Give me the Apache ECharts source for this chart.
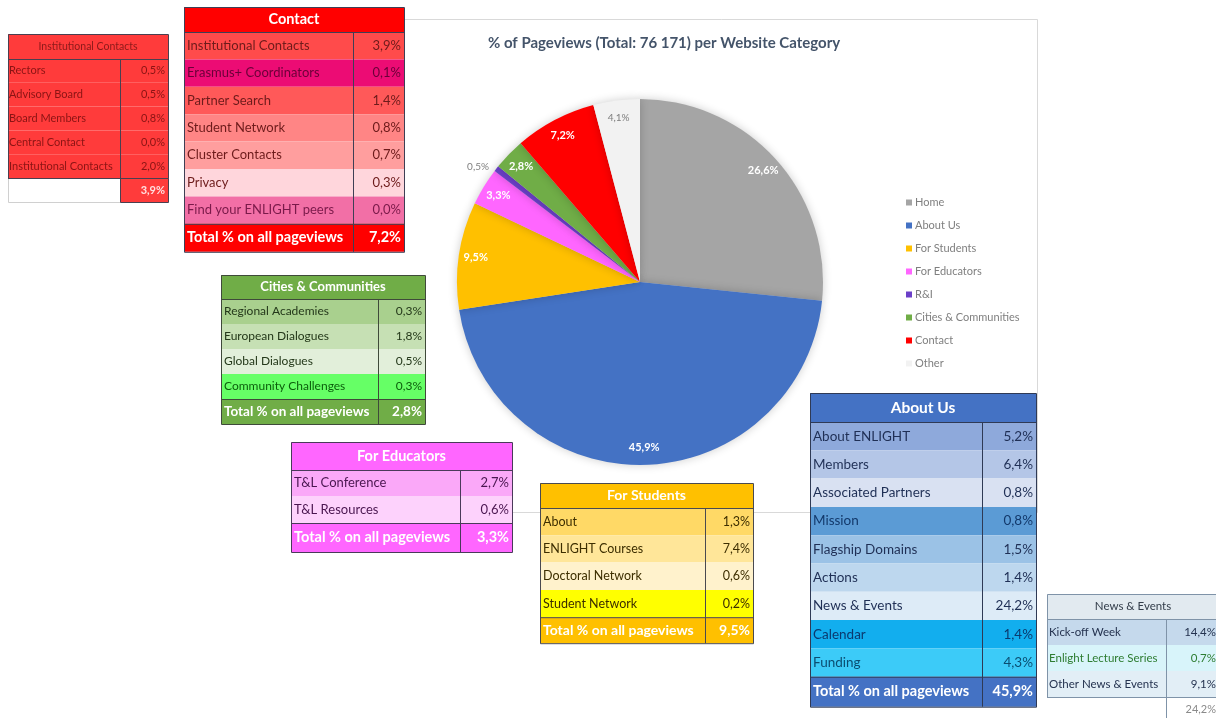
<!DOCTYPE html>
<html>
<head>
<meta charset="utf-8">
<script src="https://cdn.jsdelivr.net/npm/echarts@6/dist/echarts.min.js"></script>
<style>
  html, body { margin: 0; padding: 0; background: #fff; }
  #main { width: 1216px; height: 718px; }
</style>
</head>
<body>
<div id="main"></div>
<script>
// pie: share of pageviews per website category (%)
const pieNames = ['Home', 'About Us', 'For Students', 'For Educators', 'R&I', 'Cities & Communities', 'Contact', 'Other'];
const pieValues = [26.6, 45.9, 9.5, 3.3, 0.5, 2.8, 7.2, 4.1];
const pieColors = ['#A5A5A5', '#4472C4', '#FFC000', '#FF66FF', '#6B3FC8', '#70AD47', '#FF0000', '#F2F2F2'];

// detail tables
const instLabels = ['Rectors', 'Advisory Board', 'Board Members', 'Central Contact', 'Institutional Contacts'];
const instValues = [0.5, 0.5, 0.8, 0.0, 2.0];

const contactLabels = ['Institutional Contacts', 'Erasmus+ Coordinators', 'Partner Search', 'Student Network', 'Cluster Contacts', 'Privacy', 'Find your ENLIGHT peers'];
const contactValues = [3.9, 0.1, 1.4, 0.8, 0.7, 0.3, 0.0];

const citiesLabels = ['Regional Academies', 'European Dialogues', 'Global Dialogues', 'Community Challenges'];
const citiesValues = [0.3, 1.8, 0.5, 0.3];

const educatorsLabels = ['T&L Conference', 'T&L Resources'];
const educatorsValues = [2.7, 0.6];

const studentsLabels = ['About', 'ENLIGHT Courses', 'Doctoral Network', 'Student Network'];
const studentsValues = [1.3, 7.4, 0.6, 0.2];

const aboutLabels = ['About ENLIGHT', 'Members', 'Associated Partners', 'Mission', 'Flagship Domains', 'Actions', 'News & Events', 'Calendar', 'Funding'];
const aboutValues = [5.2, 6.4, 0.8, 0.8, 1.5, 1.4, 24.2, 1.4, 4.3];

const newsLabels = ['Kick-off Week', 'Enlight Lecture Series', 'Other News & Events'];
const newsValues = [14.4, 0.7, 9.1];

const TOTAL_TEXT = 'Total % on all pageviews';
const FONT = 'Lato, "Noto Sans", sans-serif';

const fmt = v => v.toFixed(1).replace('.', ',') + '%';

function txt(x, y, s, color, size, weight, align) {
  return {
    type: 'text', x: x, y: y, z: 10, silent: true,
    style: {
      text: s, fill: color, fontSize: size, fontWeight: weight || 'normal', fontFamily: FONT,
      textAlign: align, textVerticalAlign: 'middle', align: align, verticalAlign: 'middle'
    }
  };
}
function box(x, y, w, h, fill, stroke) {
  return { type: 'rect', z: 10, silent: true, shape: { x: x, y: y, width: w, height: h }, style: { fill: fill, stroke: stroke || null, lineWidth: 1 } };
}
function seg(x1, y1, x2, y2, stroke) {
  return { type: 'line', z: 11, silent: true, shape: { x1: x1, y1: y1, x2: x2, y2: y2 }, style: { stroke: stroke, lineWidth: 1 } };
}

// builds one table (fills, then grid lines, then texts)
function buildTable(t) {
  const fills = [], lines = [], texts = [];
  const W = t.w1 + t.w2, xr = t.x + W, xd = t.x + t.w1;
  const pad = t.pad == null ? 3 : t.pad;
  fills.push(box(t.x, t.y, W, t.headH, t.headFill));
  texts.push(txt(t.x + W / 2, t.y + t.headH / 2, t.title, t.headColor, t.headSize, t.headWeight, 'center'));
  let y = t.y + t.headH;
  t.labels.forEach((lab, i) => {
    fills.push(box(t.x, y, W, t.rowH, t.rowFills[i]));
    const c = (t.rowColors && t.rowColors[i]) || t.textColor;
    texts.push(txt(t.x + pad, y + t.rowH / 2, lab, c, t.size, 'normal', 'left'));
    texts.push(txt(xr - 3, y + t.rowH / 2, fmt(t.values[i]), c, t.size, 'normal', 'right'));
    y += t.rowH;
  });
  const bodyBottom = y, tb = y + t.totalH;
  if (t.totalLabel) {
    fills.push(box(t.x, y, W, t.totalH, t.totalFill));
    texts.push(txt(t.x + pad, y + t.totalH / 2, t.totalLabel, t.totalColor, t.totalSize, 'bold', 'left'));
    lines.push(box(t.x + 0.5, t.y + 0.5, W, tb - t.y, 'none', t.line));
  } else {
    fills.push(box(t.x + 0.5, y + 0.5, t.w1, t.totalH, '#ffffff', t.lightLine));
    fills.push(box(xd + 0.5, y + 0.5, t.w2, t.totalH, t.totalFill, t.totalStroke));
    lines.push(box(t.x + 0.5, t.y + 0.5, W, bodyBottom - t.y, 'none', t.line));
  }
  texts.push(txt(xr - 3, y + t.totalH / 2, fmt(t.total), t.totalColor, t.totalSize, t.totalWeight, 'right'));
  lines.push(seg(t.x, t.y + t.headH + 0.5, xr, t.y + t.headH + 0.5, t.line));
  lines.push(seg(xd + 0.5, t.y + t.headH, xd + 0.5, tb, t.line));
  lines.push(seg(t.x, bodyBottom + 0.5, xr, bodyBottom + 0.5, t.line));
  return fills.concat(lines, texts);
}

const tables = [
  { // Institutional Contacts
    x: 8, y: 34, w1: 112, w2: 48, headH: 25, rowH: 23.8, totalH: 24, pad: 1,
    title: 'Institutional Contacts', headFill: '#FF3B3B', headColor: '#8A1A1A', headSize: 10.5, headWeight: 'normal',
    labels: instLabels, values: instValues, rowFills: instLabels.map(() => '#FF3B3B'),
    textColor: '#8A1414', size: 11,
    totalLabel: '', total: contactValues[0], totalFill: '#FF3B3B', totalStroke: '#4a4050', lightLine: '#d0d0d0',
    totalColor: '#FFE0E0', totalSize: 11, totalWeight: 'bold', line: '#4a4050'
  },
  { // Contact
    x: 184, y: 7, w1: 169, w2: 51, headH: 25, rowH: 27.4, totalH: 28,
    title: 'Contact', headFill: '#FF0000', headColor: '#ffffff', headSize: 14.5, headWeight: 'bold',
    labels: contactLabels, values: contactValues,
    rowFills: ['#FF4B4B', '#EC0C74', '#FF5959', '#FF8585', '#FF9E9E', '#FFD6DC', '#F26FA6'],
    textColor: '#6D1B1B', rowColors: [null, '#6A0038', null, null, null, null, '#7A1A4A'], size: 13,
    totalLabel: TOTAL_TEXT, total: pieValues[6], totalFill: '#FF0000', totalColor: '#ffffff', totalSize: 14.5, totalWeight: 'bold',
    line: '#3f3f55'
  },
  { // Cities & Communities
    x: 221, y: 275, w1: 157, w2: 47, headH: 24, rowH: 25, totalH: 25,
    title: 'Cities & Communities', headFill: '#70AD47', headColor: '#ffffff', headSize: 13, headWeight: 'bold',
    labels: citiesLabels, values: citiesValues,
    rowFills: ['#A9D08E', '#C6E0B4', '#E2EFDA', '#66FF66'],
    textColor: '#24381A', rowColors: [null, null, null, '#0B5E0B'], size: 12,
    totalLabel: TOTAL_TEXT, total: pieValues[5], totalFill: '#70AD47', totalColor: '#ffffff', totalSize: 13.5, totalWeight: 'bold',
    line: '#3f4a3a'
  },
  { // For Educators
    x: 291, y: 442, w1: 169, w2: 52, headH: 28, rowH: 26.5, totalH: 29,
    title: 'For Educators', headFill: '#FF66FF', headColor: '#ffffff', headSize: 14.5, headWeight: 'bold',
    labels: educatorsLabels, values: educatorsValues,
    rowFills: ['#FAA8F8', '#FDD2FC'],
    textColor: '#4A1650', size: 13,
    totalLabel: TOTAL_TEXT, total: pieValues[3], totalFill: '#FF66FF', totalColor: '#ffffff', totalSize: 14.5, totalWeight: 'bold',
    line: '#4a3a5a'
  },
  { // For Students
    x: 540, y: 483, w1: 165, w2: 48, headH: 25, rowH: 27.3, totalH: 26,
    title: 'For Students', headFill: '#FFC000', headColor: '#ffffff', headSize: 14, headWeight: 'bold',
    labels: studentsLabels, values: studentsValues,
    rowFills: ['#FFD966', '#FFE699', '#FFF2CC', '#FFFF00'],
    textColor: '#3D2E00', size: 12.5,
    totalLabel: TOTAL_TEXT, total: pieValues[2], totalFill: '#FFC000', totalColor: '#ffffff', totalSize: 14, totalWeight: 'bold',
    line: '#4a4a50'
  },
  { // About Us
    x: 810, y: 393, w1: 172, w2: 54, headH: 29, rowH: 28.3, totalH: 30,
    title: 'About Us', headFill: '#4472C4', headColor: '#ffffff', headSize: 15.5, headWeight: 'bold',
    labels: aboutLabels, values: aboutValues,
    rowFills: ['#8EA9DB', '#B4C6E7', '#D9E1F2', '#5B9BD5', '#9BC2E6', '#BDD7EE', '#DDEBF7', '#12AEEE', '#3CCBF8'],
    textColor: '#1F2F55', rowColors: [null, null, null, '#13396B', null, null, null, '#0B3A6E', '#0B4E72'], size: 13.5,
    totalLabel: TOTAL_TEXT, total: pieValues[1], totalFill: '#4472C4', totalColor: '#ffffff', totalSize: 14.5, totalWeight: 'bold',
    line: '#2f3a55'
  },
  { // News & Events
    x: 1047, y: 594, w1: 119, w2: 53, headH: 25, rowH: 26, totalH: 25, pad: 2,
    title: 'News & Events', headFill: '#E2EAF0', headColor: '#333d4a', headSize: 11.5, headWeight: 'normal',
    labels: newsLabels, values: newsValues,
    rowFills: ['#C5D9EC', '#D8F4FA', '#E2EEF6'],
    textColor: '#24324F', rowColors: [null, '#2E7D32', null], size: 11.5,
    totalLabel: '', total: aboutValues[6], totalFill: '#ffffff', totalStroke: '#c8d0d8', lightLine: '#ffffff',
    totalColor: '#8A8A8A', totalSize: 11, totalWeight: 'normal', line: '#7f93a8'
  }
];

let graphics = [
  // chart area frame (top, right, bottom edges)
  { type: 'polyline', z: 0, silent: true, shape: { points: [[405, 19.5], [1037.5, 19.5], [1037.5, 512.5], [405, 512.5]] }, style: { fill: 'none', stroke: '#D9D9D9', lineWidth: 1 } }
];
tables.forEach(t => { graphics = graphics.concat(buildTable(t)); });

const chart = echarts.init(document.getElementById('main'));

const labelData = pieNames.map((n, i) => {
  const d = { name: n, value: pieValues[i] };
  if (n === 'R&I') {
    d.label = { position: 'outside', color: '#7F7F7F', fontWeight: 'normal', fontSize: 10 };
    d.labelLine = { show: false, length: 3, length2: 0 };
  } else if (n === 'Other') {
    d.label = { color: '#7F7F7F', fontWeight: 'normal', fontSize: 10 };
  }
  return d;
});

chart.setOption({
  backgroundColor: '#ffffff',
  animation: false,
  title: {
    text: '% of Pageviews (Total: 76 171) per Website Category',
    left: 488, top: 36, padding: 0,
    textStyle: { fontSize: 15, fontWeight: 'bold', color: '#44546A', fontFamily: FONT }
  },
  legend: {
    orient: 'vertical', left: 901, top: 192,
    data: pieNames,
    icon: 'rect', itemWidth: 6, itemHeight: 6, itemGap: 12,
    textStyle: { fontSize: 11, color: '#7F7F7F', fontFamily: FONT, padding: [0, 0, 0, -2] }
  },
  graphic: graphics,
  series: [
    {
      type: 'pie', center: [640, 282], radius: 183, startAngle: 90,
      color: pieColors,
      label: { show: false }, labelLine: { show: false },
      itemStyle: { borderWidth: 0, shadowBlur: 10, shadowColor: 'rgba(0,0,0,0.2)' },
      emphasis: { disabled: true },
      data: pieNames.map((n, i) => ({ name: n, value: pieValues[i] }))
    },
    {
      // label carrier placed on the outer band so labels sit near the rim
      type: 'pie', center: [640, 282], radius: [143, 183], startAngle: 90,
      silent: true, avoidLabelOverlap: false, z: 3,
      itemStyle: { color: 'rgba(0,0,0,0)' },
      emphasis: { disabled: true },
      label: {
        show: true, position: 'inside', color: '#ffffff', fontSize: 11, fontWeight: 'bold', fontFamily: FONT,
        formatter: p => fmt(p.value)
      },
      labelLine: { show: false },
      data: labelData
    }
  ]
});
</script>
</body>
</html>
